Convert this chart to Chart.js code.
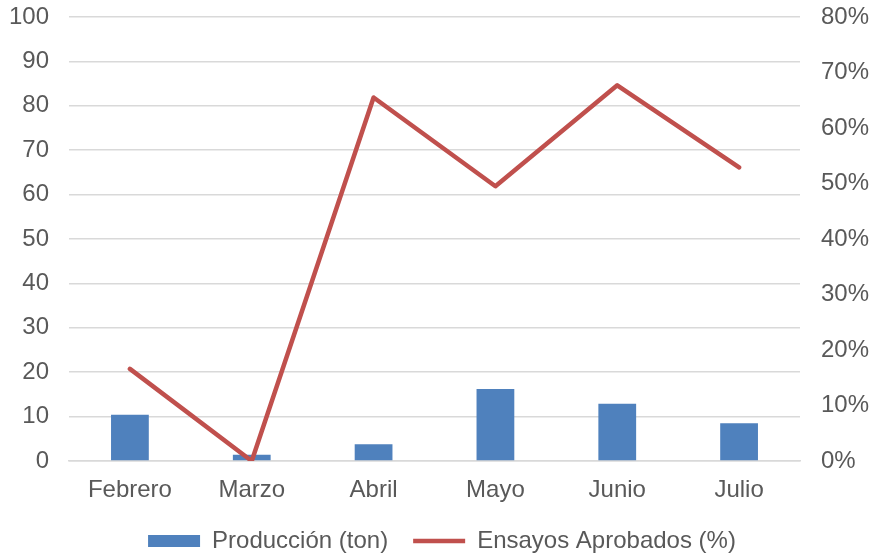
<!DOCTYPE html>
<html>
<head>
<meta charset="utf-8">
<script src="https://cdn.jsdelivr.net/npm/chart.js@4"></script>
<style>
  body { margin: 0; background: #fff; }
</style>
</head>
<body>
<canvas id="grafico" width="874" height="556"></canvas>
<script>
// Datos
const meses = ['Febrero', 'Marzo', 'Abril', 'Mayo', 'Junio', 'Julio'];
const produccion = [10.4, 1.4, 3.8, 16.2, 12.9, 8.5];      // ton
const ensayos = [0.166, 0.0, 0.655, 0.495, 0.677, 0.529]; // fraccion aprobada

const colorTexto = '#595959';
const fuente = { family: 'Liberation Sans, Arial, sans-serif', size: 24 };

// ajusta ancho y margen superior de los ejes verticales
function fijarEje(ancho) {
  return s => {
    s.width = ancho;
    s.paddingTop = 17;
    s.paddingBottom = 10;
  };
}

const ctx = document.getElementById('grafico').getContext('2d');

const chart = new Chart(ctx, {
  type: 'bar',
  data: {
    labels: meses,
    datasets: [
      {
        label: 'Producción (ton)',
        data: produccion,
        backgroundColor: '#4f81bd',
        borderWidth: 0,
        barPercentage: 0.31,
        categoryPercentage: 1,
        yAxisID: 'y',
        pointStyle: 'rect',
        order: 1
      },
      {
        type: 'line',
        label: 'Ensayos Aprobados (%)',
        data: ensayos,
        borderColor: '#c0504d',
        backgroundColor: '#c0504d',
        borderWidth: 4.5,
        borderCapStyle: 'round',
        borderJoinStyle: 'round',
        tension: 0,
        pointRadius: 0,
        pointStyle: 'line',
        fill: false,
        yAxisID: 'y2',
        order: 0
      }
    ]
  },
  options: {
    responsive: false,
    animation: false,
    layout: { padding: { left: 10, right: 0, top: 0, bottom: -7 } },
    plugins: {
      tooltip: { enabled: false },
      legend: {
        position: 'bottom',
        labels: {
          usePointStyle: true,
          pointStyleWidth: 52,
          boxHeight: 12,
          color: colorTexto,
          font: fuente,
          padding: 25,
          sort: (a, b) => a.datasetIndex - b.datasetIndex
        }
      }
    },
    scales: {
      x: {
        grid: { display: false, drawTicks: false },
        border: { color: '#d9d9d9', width: 1.5 },
        ticks: { color: colorTexto, font: fuente, padding: 15 },
        afterFit: s => { s.height = 43; }
      },
      y: {
        position: 'left',
        min: 0,
        max: 100,
        ticks: { stepSize: 10, color: colorTexto, font: fuente, padding: 20 },
        grid: { color: '#d9d9d9', lineWidth: 1.5, drawTicks: false },
        border: { display: false },
        afterFit: fijarEje(59)
      },
      y2: {
        position: 'right',
        min: 0,
        max: 0.8,
        ticks: {
          stepSize: 0.1,
          color: colorTexto,
          font: fuente,
          padding: 21,
          callback: v => Math.round(v * 100) + '%'
        },
        grid: { display: false, drawTicks: false },
        border: { display: false },
        afterFit: fijarEje(74)
      }
    }
  }
});
</script>
</body>
</html>
